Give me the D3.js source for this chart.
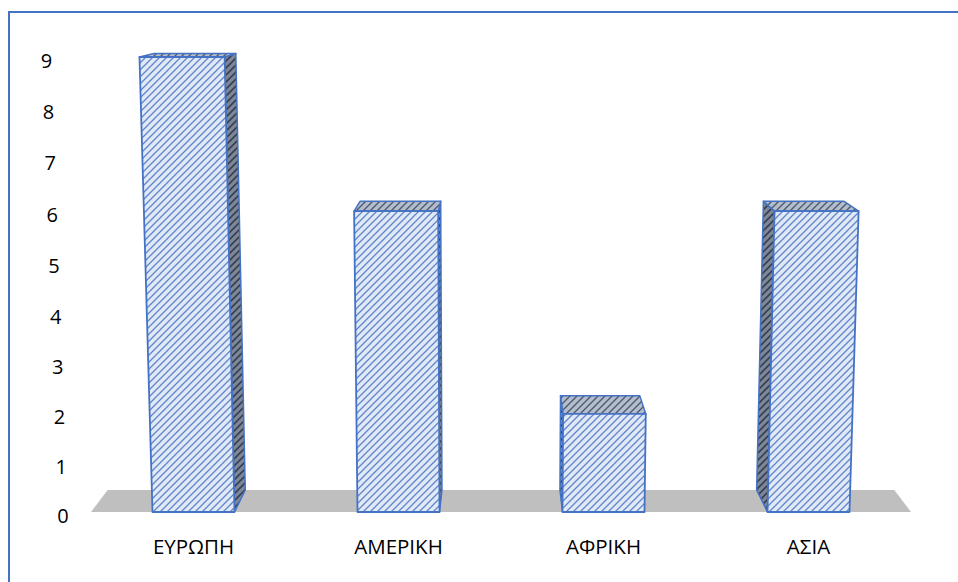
<!DOCTYPE html>
<html>
<head>
<meta charset="utf-8">
<script src="https://cdn.jsdelivr.net/npm/d3@7"></script>
<style>
  html, body { margin: 0; padding: 0; background: #fff; }
  svg { display: block; }
  text { font-family: "Open Sans", "Noto Sans", sans-serif; fill: #000; }
</style>
</head>
<body>
<svg id="chart" width="958" height="582"></svg>
<script>
// ---- data ----
const categories = ["ΕΥΡΩΠΗ", "ΑΜΕΡΙΚΗ", "ΑΦΡΙΚΗ", "ΑΣΙΑ"];
const values = [9, 6, 2, 6];
const tickValues = [0, 1, 2, 3, 4, 5, 6, 7, 8, 9];

// ---- layout / projection ----
const svg = d3.select("#chart");
const baseY = 512;
const vertVP = [491, 12340];   // verticals converge here
const depthVP = [500, -30];    // depth lines converge here
const depthK = 0.9594;

const x = d3.scaleBand().domain(categories).range([91, 911])
  .paddingInner(0.6).paddingOuter(0.3);
const y = d3.scalePow().exponent(1.02).domain([0, 9]).range([baseY, 57]);

function front(u, v) {
  const yy = y(v);
  const f = (vertVP[1] - yy) / (vertVP[1] - baseY);
  return [vertVP[0] + (u - vertVP[0]) * f, yy];
}
function back(p) {
  return [depthVP[0] + (p[0] - depthVP[0]) * depthK,
          depthVP[1] + (p[1] - depthVP[1]) * depthK];
}
const line = d3.line();

// ---- patterns ----
const defs = svg.append("defs");
function hatch(id, bg, fg, sw) {
  const s = 7;
  const p = defs.append("pattern").attr("id", id)
    .attr("patternUnits", "userSpaceOnUse").attr("width", s).attr("height", s);
  p.append("rect").attr("width", s).attr("height", s).attr("fill", bg);
  p.append("path")
    .attr("d", `M${-s/2},${s/2} L${s/2},${-s/2} M0,${s} L${s},0 M${s/2},${s*1.5} L${s*1.5},${s/2}`)
    .attr("stroke", fg).attr("stroke-width", sw);
}
hatch("hFront", "#e2e9f6", "#5f86cc", 1.3);
hatch("hTop", "#b4bdcc", "#4d5a72", 1.4);
hatch("hSide", "#7e8797", "#364155", 1.7);

// ---- chart border ----
svg.append("rect").attr("x", 9).attr("y", 12).attr("width", 1200).attr("height", 900)
  .attr("fill", "none").attr("stroke", "#4472c4").attr("stroke-width", 2);

// ---- floor ----
const r = x.range();
const fl0 = front(r[0], 0), fr0 = front(r[1], 0);
svg.append("path")
  .attr("d", line([fl0, fr0, back(fr0), back(fl0)]) + "Z")
  .attr("fill", "#bfbfbf");

// ---- bars ----
const edge = "#4472c4";
categories.forEach((c, i) => {
  const v = values[i];
  const u0 = x(c), u1 = x(c) + x.bandwidth();
  const fbl = front(u0, 0), fbr = front(u1, 0), ftl = front(u0, v), ftr = front(u1, v);
  const bbl = back(fbl), bbr = back(fbr), btl = back(ftl), btr = back(ftr);
  const g = svg.append("g").attr("class", "bar");
  if (fbr[0] < depthVP[0]) {
    g.append("path").attr("d", line([fbr, ftr, btr, bbr]) + "Z")
      .attr("fill", "url(#hSide)").attr("stroke", edge).attr("stroke-width", 1.5)
      .attr("stroke-linejoin", "round");
  }
  if (fbl[0] > depthVP[0]) {
    g.append("path").attr("d", line([fbl, ftl, btl, bbl]) + "Z")
      .attr("fill", "url(#hSide)").attr("stroke", edge).attr("stroke-width", 1.5)
      .attr("stroke-linejoin", "round");
  }
  g.append("path").attr("d", line([ftl, ftr, btr, btl]) + "Z")
    .attr("fill", "url(#hTop)").attr("stroke", edge).attr("stroke-width", 1.5)
    .attr("stroke-linejoin", "round");
  g.append("path").attr("d", line([fbl, fbr, ftr, ftl]) + "Z")
    .attr("fill", "url(#hFront)").attr("stroke", edge).attr("stroke-width", 1.8)
    .attr("stroke-linejoin", "round");
});

// ---- value axis labels ----
svg.append("g").selectAll("text").data(tickValues).join("text")
  .attr("x", d => front(63, d)[0])
  .attr("y", d => front(63, d)[1] + 3)
  .attr("text-anchor", "middle")
  .attr("dominant-baseline", "central")
  .attr("font-size", 20)
  .text(d => d);

// ---- category labels ----
svg.append("g").selectAll("text").data(categories).join("text")
  .attr("x", d => x(d) + x.bandwidth() / 2)
  .attr("y", 546)
  .attr("text-anchor", "middle")
  .attr("dominant-baseline", "central")
  .attr("font-size", 20.5)
  .text(d => d);
</script>
</body>
</html>
